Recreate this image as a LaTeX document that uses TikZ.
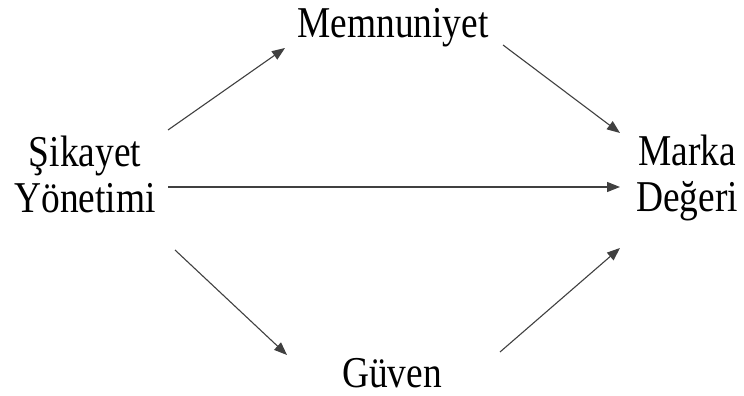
\documentclass[tikz,border=0pt]{standalone}
\usepackage{fontspec}
\setmainfont{Liberation Serif}
\usetikzlibrary{arrows.meta}
\begin{document}
\begin{tikzpicture}[x=1pt,y=1pt,
  lbl/.style={inner sep=0pt,font=\fontsize{44}{46}\selectfont,align=center,xscale=0.85,transform shape},
  arr/.style={draw=black!75,line width=1.1pt,-{Triangle[length=13pt,width=10pt]}}]
\useasboundingbox[fill=white] (0,0) rectangle (744,396);
\node[lbl,anchor=base] (mem) at (393,358) {Memnuniyet};
\node[lbl,anchor=base] (sik) at (85,183) {Şikayet\\Yönetimi};
\node[lbl,anchor=base] (mar) at (687,184) {Marka\\Değeri};
\node[lbl,anchor=base] (guv) at (392,8) {Güven};
\coordinate (a1s) at (168,266); \coordinate (a1e) at (285,348);
\coordinate (a2s) at (503,351); \coordinate (a2e) at (620,263);
\coordinate (a3s) at (168,209); \coordinate (a3e) at (620,209);
\coordinate (a4s) at (175,146); \coordinate (a4e) at (287,41);
\coordinate (a5s) at (500,44);  \coordinate (a5e) at (620,148);
\draw[arr] (a1s) -- (a1e);
\draw[arr] (a2s) -- (a2e);
\draw[arr] (a3s) -- (a3e);
\draw[arr] (a4s) -- (a4e);
\draw[arr] (a5s) -- (a5e);
\end{tikzpicture}
\end{document}
